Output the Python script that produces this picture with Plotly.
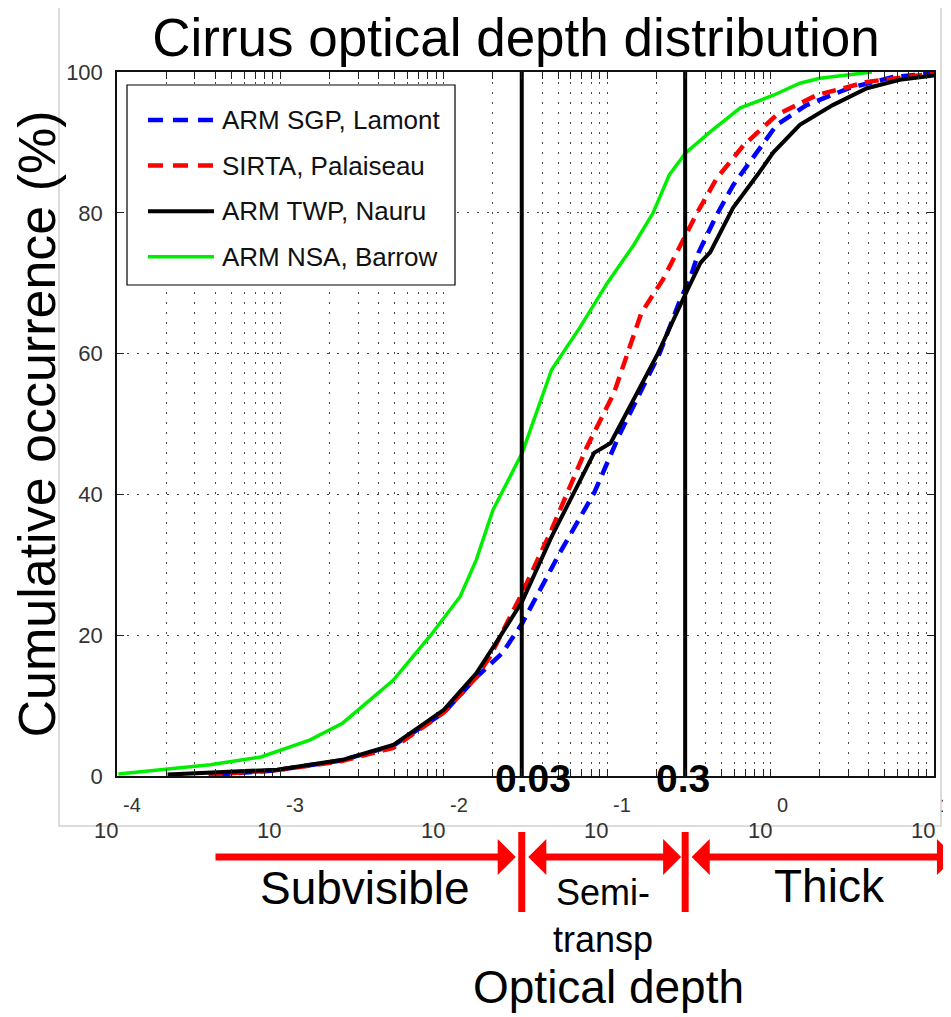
import math
import plotly.graph_objects as go

# ---------------- data ----------------
series_names = ["ARM SGP, Lamont", "SIRTA, Palaiseau", "ARM TWP, Nauru", "ARM NSA, Barrow"]

sgp_tau = [4.07e-4, 9.33e-4, 2.34e-3, 4.90e-3, 1.0e-2, 1.58e-2, 2.29e-2, 3.02e-2, 5.13e-2, 8.32e-2,
           0.120, 0.174, 0.209, 0.275, 0.324, 0.363, 0.468, 0.589, 0.785, 1.09, 1.66, 3.02, 5.62, 10.0]
sgp_cum = [0.2, 0.8, 2.2, 4.3, 9.0, 14.0, 17.5, 21.7, 31.7, 40.2,
           48.7, 56.3, 60.0, 67.2, 70.9, 74.4, 79.7, 83.9, 87.8, 92.5, 95.3, 97.7, 99.3, 99.8]

sirta_tau = [3.63e-4, 9.33e-4, 2.34e-3, 4.90e-3, 1.0e-2, 1.58e-2, 1.91e-2, 3.02e-2, 4.57e-2, 7.50e-2,
             0.110, 0.162, 0.219, 0.288, 0.355, 0.468, 0.684, 1.09, 1.91, 3.89, 7.85, 10.0]
sirta_cum = [0.2, 0.8, 2.1, 4.0, 9.0, 14.0, 16.9, 26.0, 35.0, 46.7,
             54.4, 65.8, 70.5, 76.0, 80.0, 84.9, 89.6, 93.9, 96.7, 98.6, 99.6, 99.8]

twp_tau = [2.04e-4, 4.57e-4, 9.55e-4, 2.40e-3, 4.90e-3, 1.0e-2, 1.58e-2, 2.14e-2, 3.02e-2, 4.57e-2,
           8.32e-2, 0.105, 0.151, 0.204, 0.295, 0.372, 0.427, 0.589, 0.832, 1.04, 1.51, 2.40, 3.89, 6.17, 10.0]
twp_cum = [0.2, 0.5, 0.9, 2.3, 4.4, 9.4, 14.6, 19.3, 24.8, 34.0,
           45.9, 47.3, 54.4, 60.0, 68.0, 72.9, 74.4, 80.7, 85.4, 88.6, 92.5, 95.3, 97.7, 98.9, 99.5]

nsa_tau = [1.02e-4, 1.82e-4, 3.72e-4, 7.59e-4, 1.51e-3, 2.40e-3, 4.90e-3, 8.32e-3, 1.26e-2, 1.58e-2,
           2.0e-2, 3.02e-2, 4.57e-2, 6.84e-2, 0.100, 0.145, 0.191, 0.240, 0.302, 0.427, 0.653, 1.04,
           1.51, 2.0, 3.02, 4.17]
nsa_cum = [0.3, 0.9, 1.6, 2.7, 5.1, 7.5, 13.6, 20.0, 25.5, 30.7,
           37.8, 45.9, 57.7, 63.8, 70.0, 75.4, 80.0, 85.4, 88.5, 91.5, 94.9, 96.7,
           98.4, 99.1, 99.6, 100.0]

thresholds = [0.03, 0.3]
threshold_labels = ["0.03", "0.3"]
decade_ticks = [1e-4, 1e-3, 1e-2, 1e-1, 1.0, 10.0]
decade_exponents = ["-4", "-3", "-2", "-1", "0", "1"]
minor_multipliers = [1, 2, 3, 4, 5, 6, 7, 8, 9]
y_ticks = [0, 20, 40, 60, 80, 100]
regime_names = ["Subvisible", "Semi-<br>transp", "Thick"]
title_text = "Cirrus optical depth distribution"
x_title = "Optical depth"
y_title = "Cumulative occurrence (%)"

# ---------------- styling ----------------
FONT = "Liberation Sans, Arial, Helvetica, sans-serif"
OFF = 8                      # the page body adds an 8 px margin
W, H = 951 - OFF, 1017 - OFF
PX_L, PX_R, PX_T, PX_B = 117, 934, 72, 776   # plot area in page pixels


def px_x(px):
    return (px - PX_L) / (PX_R - PX_L)


def px_y(py):
    return (PX_B - py) / (PX_B - PX_T)


styles = [
    dict(color="#0000FF", width=4.5, dash="14px,8px"),
    dict(color="#FF0000", width=4.5, dash="14px,8px"),
    dict(color="#000000", width=4, dash="solid"),
    dict(color="#00EE00", width=3.5, dash="solid"),
]
series_tau = [sgp_tau, sirta_tau, twp_tau, nsa_tau]
series_cum = [sgp_cum, sirta_cum, twp_cum, nsa_cum]

fig = go.Figure()
for name, xs, ys, st in zip(series_names, series_tau, series_cum, styles):
    fig.add_trace(go.Scatter(x=xs, y=ys, mode="lines", name=name, line=st, showlegend=False))

# vertical threshold lines inside the axes
for t in thresholds:
    fig.add_trace(go.Scatter(x=[t, t], y=[y_ticks[0], y_ticks[-1]], mode="lines",
                             line=dict(color="black", width=4), showlegend=False, hoverinfo="skip"))

grid_vals = [m * d for d in decade_ticks[:-1] for m in minor_multipliers] + [decade_ticks[-1]]

fig.update_xaxes(
    type="log", range=[math.log10(decade_ticks[0]), math.log10(decade_ticks[-1])],
    tickvals=grid_vals, showticklabels=False,
    ticks="inside", ticklen=7, tickcolor="#222", mirror="ticks",
    showline=True, linecolor="#111", linewidth=1.5,
    showgrid=True, gridcolor="#4a4a4a", gridwidth=1, griddash="2px,8px",
    zeroline=False,
)
fig.update_yaxes(
    range=[y_ticks[0], y_ticks[-1]], tickvals=y_ticks,
    ticks="inside", ticklen=7, tickcolor="#222", mirror="ticks",
    showline=True, linecolor="#111", linewidth=1.5,
    showgrid=True, gridcolor="#4a4a4a", gridwidth=1, griddash="2px,8px",
    zeroline=False,
    tickfont=dict(family=FONT, size=22, color="#333"),
    ticklabelstandoff=8,
    title=dict(text=y_title, font=dict(family=FONT, size=52, color="black"), standoff=6),
)

annotations = []
# x tick labels as 10^n
for tv, ex in zip(decade_ticks, decade_exponents):
    annotations.append(dict(x=math.log10(tv), xref="x", y=px_y(830), yref="paper",
                            text="10", showarrow=False, xanchor="right", yanchor="middle",
                            xshift=3, font=dict(family=FONT, size=22, color="#333")))
    annotations.append(dict(x=math.log10(tv), xref="x", y=px_y(805), yref="paper",
                            text=ex, showarrow=False, xanchor="left", yanchor="middle",
                            xshift=4, font=dict(family=FONT, size=20, color="#333")))

# threshold labels
for t, lab, sh in zip(thresholds, threshold_labels, [11, -2]):
    annotations.append(dict(x=math.log10(t), xref="x", y=px_y(779), yref="paper",
                            text="<b>" + lab + "</b>", showarrow=False, xanchor="center",
                            yanchor="middle", xshift=sh,
                            font=dict(family=FONT, size=39, color="black")))

# regime arrows
ARROW_Y = px_y(857)
RED = "#FF0000"
lo, hi = math.log10(thresholds[0]), math.log10(thresholds[1])
decade_px = (PX_R - PX_L) / 5.0
arrow_common = dict(xref="x", yref="paper", axref="x", ay=0, ayref="pixel", text="",
                    showarrow=True, arrowhead=1, arrowsize=0.86, arrowwidth=7, arrowcolor=RED)
# left arrow (single head)
annotations.append(dict(x=lo - 6 / decade_px, y=ARROW_Y,
                        ax=math.log10(decade_ticks[0]) + 97 / decade_px, **arrow_common))
# middle arrow (double head)
annotations.append(dict(x=hi - 4 / decade_px, y=ARROW_Y, ax=lo + 5 / decade_px,
                        arrowside="end+start", startarrowhead=1, startarrowsize=0.86,
                        **arrow_common))
# right arrow (double head)
annotations.append(dict(x=math.log10(decade_ticks[-1]) + 21 / decade_px, y=ARROW_Y,
                        ax=hi + 5 / decade_px,
                        arrowside="end+start", startarrowhead=1, startarrowsize=0.86,
                        **arrow_common))

# regime labels
label_common = dict(xref="paper", yref="paper", showarrow=False, xanchor="center",
                    yanchor="middle", borderpad=0)
annotations.append(dict(x=px_x(365), y=px_y(888), text=regime_names[0],
                        font=dict(family=FONT, size=46, color="black"), **label_common))
annotations.append(dict(x=px_x(603), y=px_y(916), text=regime_names[1],
                        font=dict(family=FONT, size=36, color="black"), **label_common))
annotations.append(dict(x=px_x(829), y=px_y(886), text=regime_names[2],
                        font=dict(family=FONT, size=46, color="black"), **label_common))
# x title
annotations.append(dict(x=px_x(608), y=px_y(987), text=x_title,
                        font=dict(family=FONT, size=46, color="black"), **label_common))

shapes = []
# faint outer frame of the original figure
shapes.append(dict(type="rect", xref="paper", yref="paper", x0=px_x(59), x1=px_x(941),
                   y0=px_y(826), y1=px_y(4), line=dict(color="#dcdcdc", width=2), layer="below"))
# red separators under the axis
for t in thresholds:
    shapes.append(dict(type="line", xref="x", x0=t, x1=t, yref="paper",
                       y0=px_y(832), y1=px_y(912), line=dict(color=RED, width=7)))

# manual legend
shapes.append(dict(type="rect", xref="paper", yref="paper", x0=px_x(127), x1=px_x(455),
                   y0=px_y(285), y1=px_y(85), line=dict(color="black", width=1.2),
                   fillcolor="white"))
for i, (name, st) in enumerate(zip(series_names, styles)):
    ry = 120 + i * 45.6
    shapes.append(dict(type="line", xref="paper", yref="paper", x0=px_x(148), x1=px_x(214),
                       y0=px_y(ry), y1=px_y(ry),
                       line=dict(color=st["color"], width=st["width"],
                                 dash="15px,10px" if st["dash"] != "solid" else "solid")))
    annotations.append(dict(x=px_x(220), xref="paper", y=px_y(ry), yref="paper", text=name,
                            showarrow=False, xanchor="left", yanchor="middle",
                            font=dict(family=FONT, size=26, color="#111")))

fig.update_layout(
    width=W, height=H,
    margin=dict(l=PX_L - OFF, r=W - (PX_R - OFF), t=PX_T - OFF, b=H - (PX_B - OFF), autoexpand=False),
    paper_bgcolor="white", plot_bgcolor="white",
    title=dict(text=title_text, x=(516 - OFF) / W, xanchor="center", y=1 - (37 - OFF) / H,
               yanchor="middle", yref="container", font=dict(family=FONT, size=53, color="black")),
    annotations=annotations, shapes=shapes, showlegend=False,
)

fig.write_html("out.html")
